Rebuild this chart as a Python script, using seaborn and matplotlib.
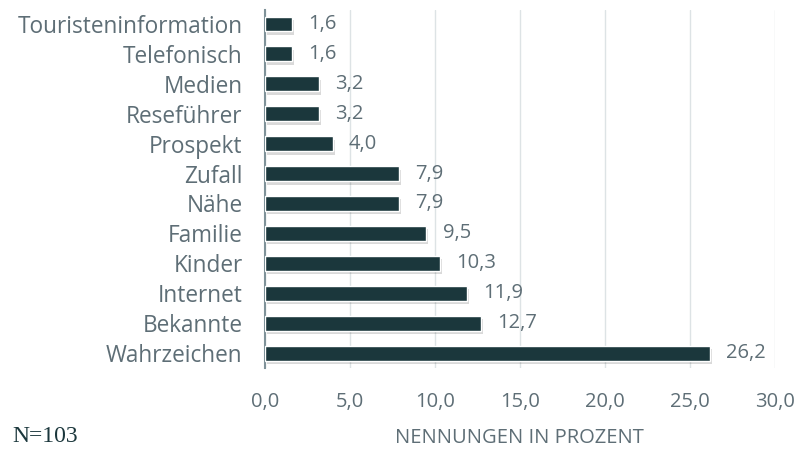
import pandas as pd
import matplotlib
matplotlib.use("Agg")
import matplotlib.pyplot as plt
import matplotlib.patheffects as pe
import seaborn as sns

categories = ['Touristeninformation', 'Telefonisch', 'Medien', 'Reseführer', 'Prospekt',
              'Zufall', 'Nähe', 'Familie', 'Kinder', 'Internet', 'Bekannte', 'Wahrzeichen']
values = [1.6, 1.6, 3.2, 3.2, 4.0, 7.9, 7.9, 9.5, 10.3, 11.9, 12.7, 26.2]
xticks = [0, 5, 10, 15, 20, 25, 30]

df = pd.DataFrame({'kategorie': categories, 'prozent': values})

sns.set_style("white")
plt.rcParams['font.family'] = ['Open Sans', 'DejaVu Sans']

text_col = '#5e6e76'
bar_col = '#1b373c'

fig = plt.figure(figsize=(7.98, 4.51), dpi=100)
ax = fig.add_axes([0.332, 0.184, 0.639, 0.794])

sns.barplot(data=df, x='prozent', y='kategorie', color=bar_col, width=0.5,
            saturation=1, ax=ax, zorder=3)

# weiche Schatten unter den Balken
for p in ax.patches:
    p.set_path_effects([pe.SimplePatchShadow(offset=(1.5, -2.5), shadow_rgbFace='#000000', alpha=0.15),
                        pe.Normal()])

for i, v in enumerate(values):
    ax.text(v + 0.95, i, f'{v:.1f}'.replace('.', ','), va='center', ha='left',
            color=text_col, fontsize=14.5)

ax.set_xlim(0, 30)
ax.set_ylim(11.5, -0.47)
ax.set_xticks(xticks)
ax.set_xticklabels([f'{t:.1f}'.replace('.', ',') for t in xticks])
ax.xaxis.grid(True, color='#dde3e5', linewidth=1, zorder=0)
ax.tick_params(axis='x', length=0, labelsize=14.5, colors=text_col, pad=17)
ax.tick_params(axis='y', length=0, labelsize=16.3, colors=text_col, pad=16)
for s in ['top', 'right', 'bottom']:
    ax.spines[s].set_visible(False)
ax.spines['left'].set_color('#7f9299')
ax.spines['left'].set_linewidth(1.5)
ax.set_ylabel('')
ax.set_xlabel('NENNUNGEN IN PROZENT', color=text_col, fontsize=14.5, labelpad=12)

fig.text(0.015, 0.02, 'N=103', family='Liberation Serif', fontsize=17, color='#1b373c')

fig.savefig('out.png', dpi=100)
